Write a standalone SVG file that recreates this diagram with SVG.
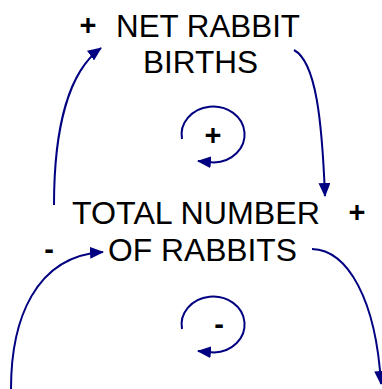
<svg xmlns="http://www.w3.org/2000/svg" width="382" height="389" viewBox="0 0 382 389">
<defs>
<marker id="ah" markerUnits="userSpaceOnUse" markerWidth="14" markerHeight="12" viewBox="0 0 14 12" refX="13" refY="6" orient="auto">
<path d="M0,0 L14,6 L0,12 Z" fill="#000080"/>
</marker>
<style>
.lbl{font-family:"Liberation Sans",Arial,sans-serif;font-size:31px;fill:#000}
.sgn{font-family:"Liberation Sans",Arial,sans-serif;font-size:29px;font-weight:bold;fill:#000;text-anchor:middle}
.c{fill:none;stroke:#000080;stroke-width:2}
</style>
</defs>
<rect width="382" height="389" fill="#fff"/>
<g id="net-rabbit-births">
<text class="lbl" x="116" y="37" textLength="184" lengthAdjust="spacingAndGlyphs">NET RABBIT</text>
<text class="lbl" x="143" y="73" textLength="115" lengthAdjust="spacingAndGlyphs">BIRTHS</text>
</g>
<g id="total-number-of-rabbits">
<text class="lbl" x="72" y="224" textLength="248" lengthAdjust="spacingAndGlyphs">TOTAL NUMBER</text>
<text class="lbl" x="108" y="261" textLength="189" lengthAdjust="spacingAndGlyphs">OF RABBITS</text>
</g>
<g id="loop-positive">
<path class="c" d="M182,139 A31.5,28 0 1 1 214,162.5 L198,161" marker-end="url(#ah)"/>
<text class="sgn" x="213" y="145">+</text>
</g>
<g id="loop-negative">
<path class="c" d="M182,329 A31.5,28 0 1 1 214,352.5 L198,351" marker-end="url(#ah)"/>
<text class="sgn" x="219" y="334">-</text>
</g>
<g id="connectors">
<path class="c" d="M54,205 C54,130 68,72 101,48" marker-end="url(#ah)"/>
<path class="c" d="M294,50 C316,62 322,120 325,196" marker-end="url(#ah)"/>
<path class="c" d="M11,389 C11,320 35,256 103,252" marker-end="url(#ah)"/>
<path class="c" d="M312,249 C348,250 376,300 381,384" marker-end="url(#ah)"/>
</g>
<g id="polarities">
<text class="sgn" x="88" y="35">+</text>
<text class="sgn" x="357" y="222">+</text>
<text class="sgn" x="49" y="259">-</text>
</g>
</svg>
